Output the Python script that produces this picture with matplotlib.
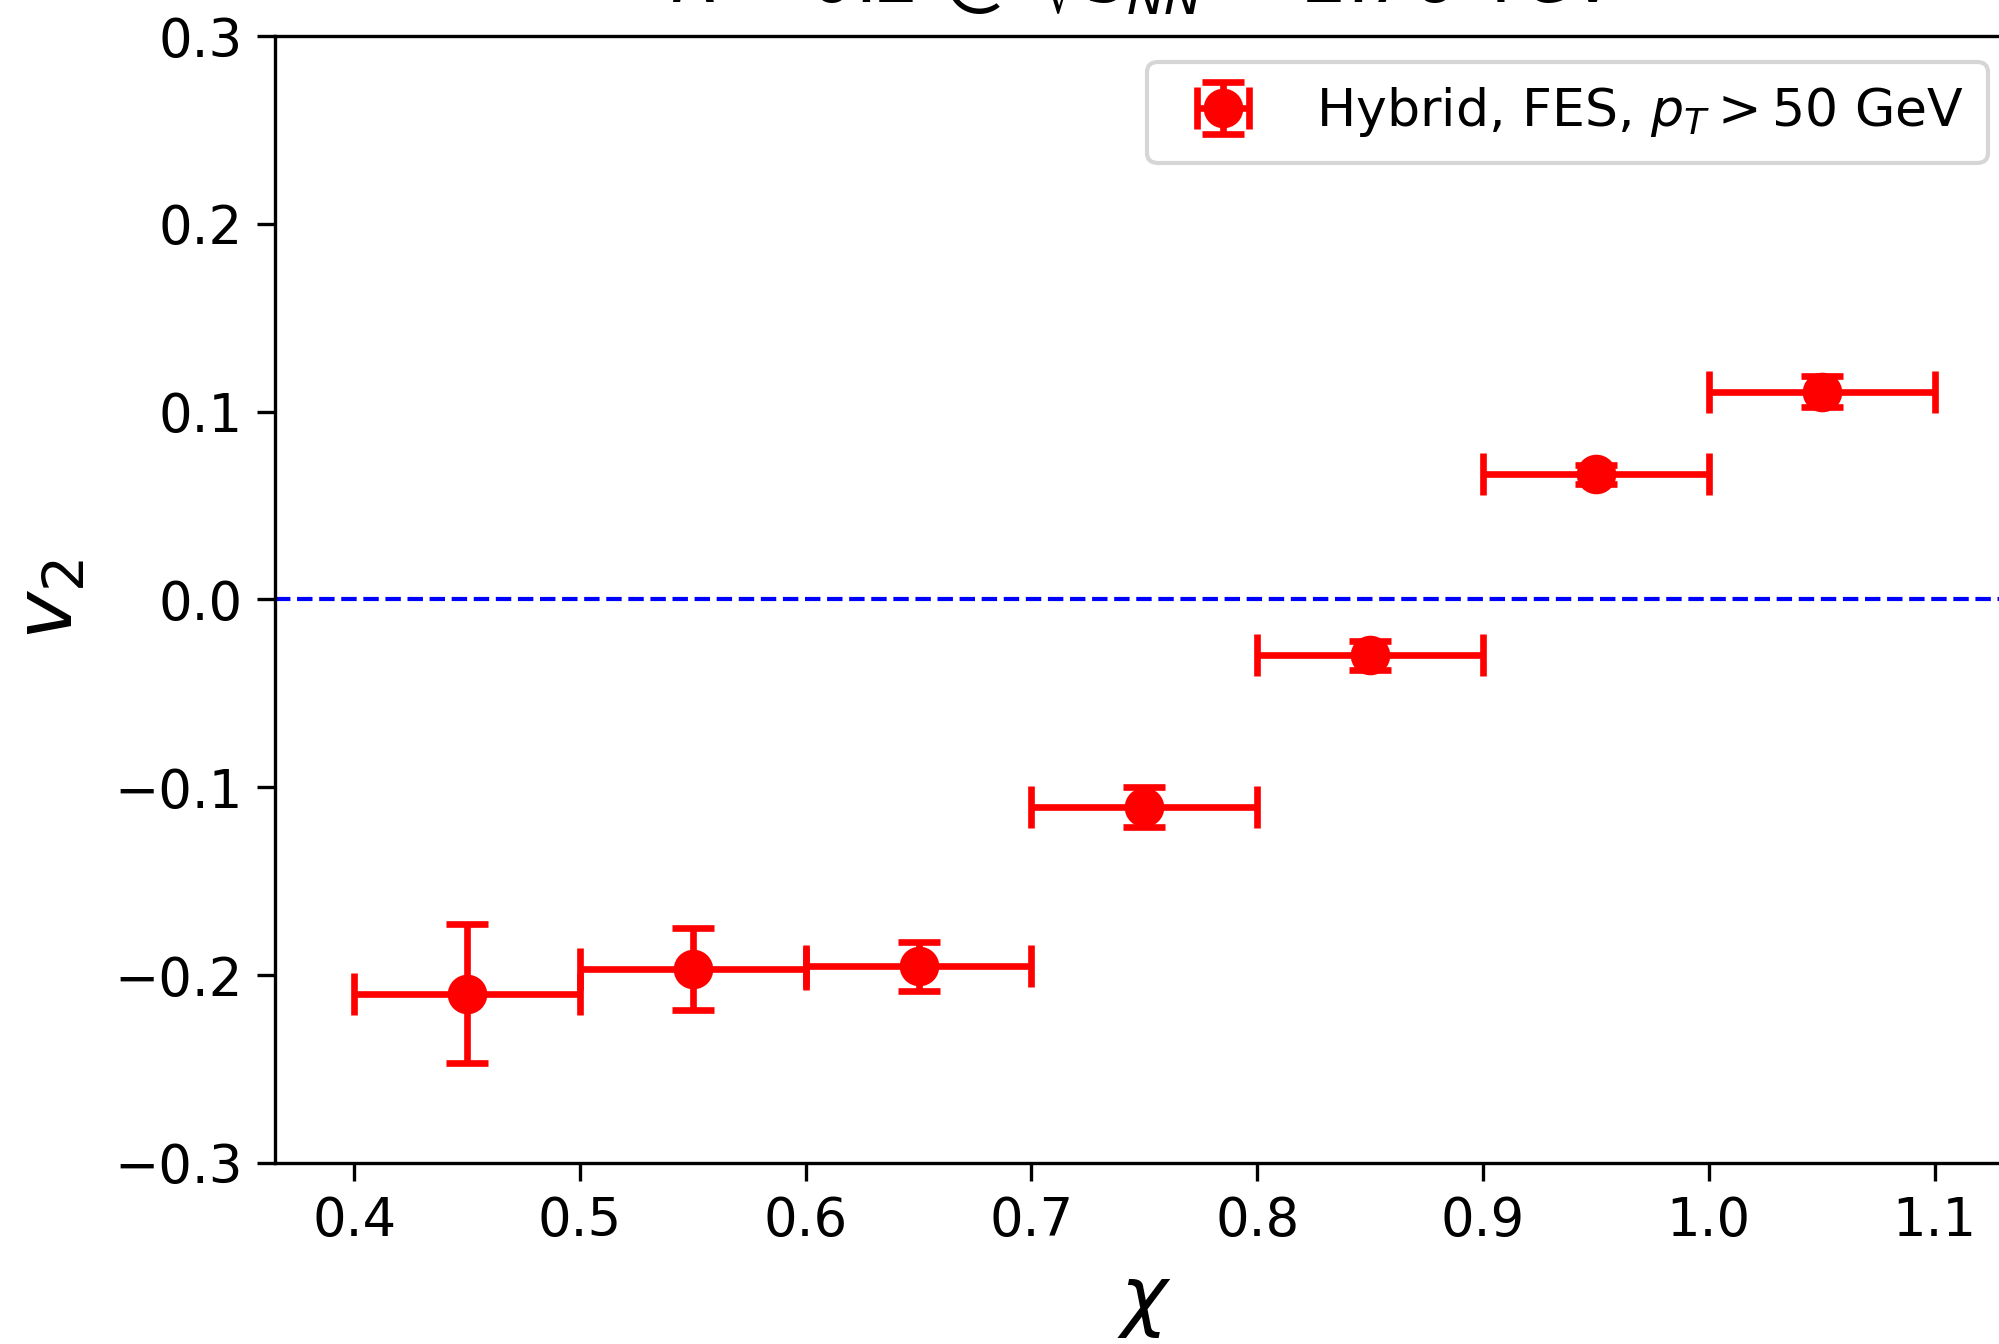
import matplotlib
matplotlib.use("Agg")
import matplotlib.pyplot as plt

# Jet-axis decorrelation v2 versus chi, binned
chi = [0.45, 0.55, 0.65, 0.75, 0.85, 0.95, 1.05]
chi_halfwidth = [0.05, 0.05, 0.05, 0.05, 0.05, 0.05, 0.05]
v2 = [-0.2098, -0.1967, -0.1952, -0.1104, -0.0298, 0.0666, 0.1106]
v2_err = [0.0368, 0.0220, 0.0130, 0.0105, 0.0075, 0.0052, 0.0083]

x_ticks = [0.4, 0.5, 0.6, 0.7, 0.8, 0.9, 1.0, 1.1]
y_ticks = [-0.3, -0.2, -0.1, 0.0, 0.1, 0.2, 0.3]

dpi = 300
fig = plt.figure(figsize=(1999 / dpi, 1344 / dpi), dpi=dpi)
ax = fig.add_axes([0.1376, 0.1347, 0.8697, 0.8385])

ax.axhline(0.0, color="blue", linestyle="--", linewidth=1.0)
ax.errorbar(chi, v2, xerr=chi_halfwidth, yerr=v2_err, fmt="o", color="red",
            markersize=8.5, elinewidth=1.6, capsize=5, capthick=1.6,
            label=r"Hybrid, FES, $p_T > 50$ GeV")

ax.set_ylim(-0.3, 0.3)
ax.set_xticks(x_ticks)
ax.set_yticks(y_ticks)
ax.tick_params(labelsize=12.7, length=4.3, width=0.8)
ax.set_xlabel(r"$\chi$", fontsize=19)
ax.set_ylabel(r"$v_2$", fontsize=19.5, labelpad=6)
ax.set_title(r"$R = 0.2$ @ $\sqrt{s_{NN}} = 2.76$ TeV", fontsize=17.3, pad=8)
ax.legend(loc="upper right", fontsize=12.5, borderpad=0.45)

fig.savefig("out.png", dpi=dpi)
